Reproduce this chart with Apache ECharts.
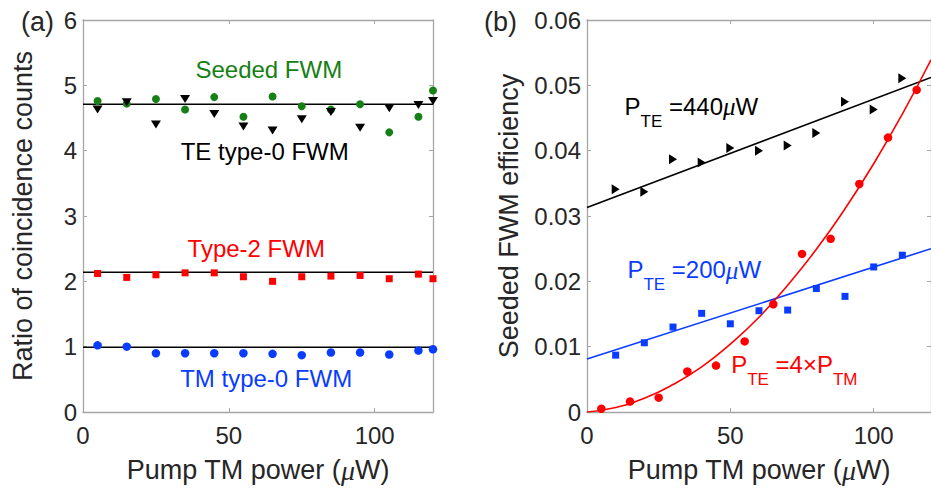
<!DOCTYPE html>
<html>
<head>
<meta charset="utf-8">
<script src="https://cdn.jsdelivr.net/npm/echarts@6/dist/echarts.min.js"></script>
<style>
html,body{margin:0;padding:0;background:#fff;}
#chart{width:931px;height:490px;}
</style>
</head>
<body>
<div id="chart"></div>
<script>
// ---------- Panel (a) data ----------
const xA = [5, 15, 25, 35, 45, 55, 65, 75, 85, 95, 105, 115, 120];
const seededFWM = [4.76, 4.72, 4.79, 4.63, 4.82, 4.52, 4.83, 4.68, 4.63, 4.71, 4.28, 4.52, 4.92];
const teType0 = [4.63, 4.74, 4.40, 4.79, 4.56, 4.37, 4.31, 4.48, 4.59, 4.35, 4.65, 4.70, 4.76];
const type2FWM = [2.12, 2.06, 2.10, 2.13, 2.13, 2.07, 2.00, 2.07, 2.08, 2.09, 2.04, 2.11, 2.04];
const tmType0 = [1.02, 1.00, 0.90, 0.90, 0.90, 0.90, 0.89, 0.87, 0.91, 0.91, 0.88, 0.94, 0.96];
const fitSeeded = 4.71;
const fitType2 = 2.14;
const fitTM = 0.99;
const xRangeA = [0, 120];
const yTicksA = [0, 1, 2, 3, 4, 5, 6];
const xTicks = [0, 50, 100];

// ---------- Panel (b) data ----------
const xRed = [5, 15, 25, 35, 45, 55, 65, 75, 85, 95, 105, 115];
const effRed = [0.0005, 0.0016, 0.0022, 0.0062, 0.0071, 0.0108, 0.0165, 0.0242, 0.0265, 0.0349, 0.0420, 0.0493];
const xRedCurve = [0, 10, 20, 30, 40, 50, 60, 70, 80, 90, 100, 110, 120];
const effRedCurve = [0, 0.0007, 0.0021, 0.0042, 0.0069, 0.0104, 0.0145, 0.0194, 0.0249, 0.0311, 0.0380, 0.0456, 0.0539];
const xBlue = [10, 20, 30, 40, 50, 60, 70, 80, 90, 100, 110];
const effBlue = [0.0087, 0.0106, 0.0130, 0.0151, 0.0135, 0.0155, 0.0156, 0.0189, 0.0177, 0.0222, 0.0240];
const xBlack = [10, 20, 30, 40, 50, 60, 70, 80, 90, 100, 110];
const effBlack = [0.0341, 0.0337, 0.0387, 0.0382, 0.0404, 0.0400, 0.0408, 0.0427, 0.0475, 0.0463, 0.0511];
const fitBlueEnds = [0.0081, 0.0250];   // at x = 0 and x = 120
const fitBlackEnds = [0.0313, 0.0512];  // at x = 0 and x = 120
const xRangeB = [0, 120];
const yTicksB = [0, 0.01, 0.02, 0.03, 0.04, 0.05, 0.06];

// ---------- styles ----------
const FONT = '"Liberation Sans", Arial, Helvetica, sans-serif';
const SERIF = '"Liberation Serif", "Times New Roman", serif';
const TXT = '#262626';
const AX = '#a6a6a6';
const GREEN = '#168016';
const RED = '#ff0000';
const BLUE = '#0a3cff';

const zip = (xs, ys) => xs.map((x, i) => [x, ys[i]]);

const xNameRich = {
  t: { fontFamily: FONT, fontSize: 27, color: TXT },
  mu: { fontFamily: SERIF, fontStyle: 'italic', fontSize: 28, color: TXT }
};

function xAxisCfg(gridIndex, range, name, showLabels, pos) {
  return {
    type: 'value', gridIndex, position: pos, min: range[0], max: range[1], interval: 50,
    name: showLabels ? name : '', nameLocation: 'middle', nameGap: 44,
    nameTextStyle: { fontFamily: FONT, fontSize: 27, color: TXT, rich: xNameRich },
    axisLine: { show: true, onZero: false, lineStyle: { color: AX, width: 1.3 } },
    axisTick: { show: true, inside: true, length: 4, lineStyle: { color: AX } },
    axisLabel: { show: showLabels, fontFamily: FONT, fontSize: 24, color: TXT, margin: 11,
                 customValues: xTicks },
    splitLine: { show: false }
  };
}
function yAxisCfg(gridIndex, min, max, interval, name, showLabels, pos, gap, fmt) {
  return {
    type: 'value', gridIndex, position: pos, min, max, interval,
    name: showLabels ? name : '', nameLocation: 'middle', nameGap: gap,
    nameTextStyle: { fontFamily: FONT, fontSize: 27, color: TXT },
    axisLine: { show: true, onZero: false, lineStyle: { color: AX, width: 1.3 } },
    axisTick: { show: true, inside: true, length: 4, lineStyle: { color: AX } },
    axisLabel: { show: showLabels, fontFamily: FONT, fontSize: 24, color: TXT, margin: 6, formatter: fmt },
    splitLine: { show: false }
  };
}

const mainRich = (color) => ({
  m: { fontFamily: FONT, fontSize: 24, color, lineHeight: 28, verticalAlign: 'top' },
  mu: { fontFamily: SERIF, fontStyle: 'italic', fontSize: 25, color, lineHeight: 28, verticalAlign: 'top' },
  s: { fontFamily: FONT, fontSize: 17, color, lineHeight: 54, verticalAlign: 'middle' }
});

function annot(xi, yi, pt, text, color, align, rich) {
  return {
    type: 'scatter', xAxisIndex: xi, yAxisIndex: yi, symbolSize: 0, silent: true, z: 10,
    itemStyle: { opacity: 1 },
    data: [pt],
    label: {
      show: true, position: align === 'center' ? 'inside' : 'right', distance: 0,
      align: align === 'center' ? 'center' : 'left', verticalAlign: 'middle',
      formatter: text, fontFamily: FONT, fontSize: 24, color, opacity: 1,
      rich: rich || undefined
    }
  };
}

function marks(xi, yi, xs, ys, symbol, size, color, rot, z) {
  return {
    type: 'scatter', xAxisIndex: xi, yAxisIndex: yi, data: zip(xs, ys), symbol, symbolSize: size,
    symbolRotate: rot || 0, itemStyle: { color, opacity: 1 }, z: z || 3, silent: true
  };
}
function line(xi, yi, xs, ys, color, smooth) {
  return {
    type: 'line', xAxisIndex: xi, yAxisIndex: yi, data: zip(xs, ys), symbol: 'none', smooth: !!smooth,
    lineStyle: { color, width: 1.6, opacity: 1 }, z: 2, silent: true
  };
}

const option = {
  animation: false,
  backgroundColor: '#ffffff',
  grid: [
    { left: 83, top: 20, width: 350, height: 392 },
    { left: 587, top: 20, width: 351, height: 392 }
  ],
  xAxis: [
    xAxisCfg(0, xRangeA, '{t|Pump TM power (}{mu|\u03bc}{t|W)}', true, 'bottom'),
    xAxisCfg(0, xRangeA, '', false, 'top'),
    xAxisCfg(1, xRangeB, '{t|Pump TM power (}{mu|\u03bc}{t|W)}', true, 'bottom'),
    xAxisCfg(1, xRangeB, '', false, 'top')
  ],
  yAxis: [
    yAxisCfg(0, yTicksA[0], yTicksA[yTicksA.length - 1], 1, 'Ratio of coincidence counts', true, 'left', 47, v => String(v)),
    yAxisCfg(0, yTicksA[0], yTicksA[yTicksA.length - 1], 1, '', false, 'right', 10, v => String(v)),
    yAxisCfg(1, yTicksB[0], yTicksB[yTicksB.length - 1], 0.01, 'Seeded FWM efficiency', true, 'left', 65,
             v => (v === 0 ? '0' : v.toFixed(2))),
    yAxisCfg(1, yTicksB[0], yTicksB[yTicksB.length - 1], 0.01, '', false, 'right', 10, v => String(v))
  ],
  graphic: [
    { type: 'text', left: 21, top: 8, style: { text: '(a)', fontFamily: FONT, fontSize: 27, fill: TXT } },
    { type: 'text', left: 484, top: 8, style: { text: '(b)', fontFamily: FONT, fontSize: 27, fill: TXT } }
  ],
  series: [
    // fit lines panel (a)
    line(0, 0, xRangeA, [fitSeeded, fitSeeded], '#000'),
    line(0, 0, xRangeA, [fitType2, fitType2], '#000'),
    line(0, 0, xRangeA, [fitTM, fitTM], '#000'),
    // markers panel (a)
    marks(0, 0, xA, seededFWM, 'circle', 8, GREEN),
    marks(0, 0, xA, teType0, 'triangle', [10, 8], '#000', 180, 4),
    marks(0, 0, xA, type2FWM, 'rect', 7, RED),
    marks(0, 0, xA, tmType0, 'circle', 8.5, BLUE),
    // annotations panel (a)
    annot(0, 0, [63.7, 5.24], 'Seeded FWM', GREEN, 'center'),
    annot(0, 0, [62.3, 3.99], 'TE type-0 FWM', '#000', 'center'),
    annot(0, 0, [59.4, 2.50], 'Type-2 FWM', RED, 'center'),
    annot(0, 0, [62.8, 0.52], 'TM type-0 FWM', BLUE, 'center'),

    // panel (b) lines
    line(2, 2, xRangeB, fitBlackEnds, '#000'),
    line(2, 2, xRangeB, fitBlueEnds, BLUE),
    line(2, 2, xRedCurve, effRedCurve, RED, true),
    // panel (b) markers
    marks(2, 2, xBlack, effBlack, 'triangle', [10, 8], '#000', -90),
    marks(2, 2, xBlue, effBlue, 'rect', 7, BLUE),
    marks(2, 2, xRed, effRed, 'circle', 8.5, RED),
    // annotations panel (b)
    annot(2, 2, [13.1, 0.0445], '{m|P}{s|TE}{m| =440}{mu|\u03bc}{m|W}', '#000', 'left', mainRich('#000')),
    annot(2, 2, [14.1, 0.0195], '{m|P}{s|TE}{m| =200}{mu|\u03bc}{m|W}', BLUE, 'left', mainRich(BLUE)),
    annot(2, 2, [50.3, 0.0049], '{m|P}{s|TE}{m| =4\u00d7P}{s|TM}', RED, 'left', mainRich(RED))
  ]
};

const chart = echarts.init(document.getElementById('chart'), null, { renderer: 'svg', width: 931, height: 490 });
chart.setOption(option);
</script>
</body>
</html>
